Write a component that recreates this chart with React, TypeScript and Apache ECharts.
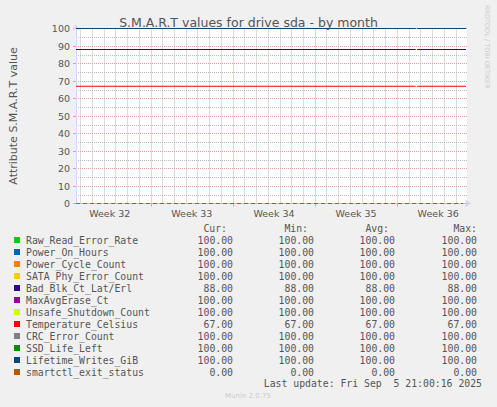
import { useEffect, useRef } from 'react'
import * as echarts from 'echarts'

// S.M.A.R.T fields, in Munin draw order
const fieldNames = [
  'Raw_Read_Error_Rate',
  'Power_On_Hours',
  'Power_Cycle_Count',
  'SATA_Phy_Error_Count',
  'Bad_Blk_Ct_Lat/Erl',
  'MaxAvgErase_Ct',
  'Unsafe_Shutdown_Count',
  'Temperature_Celsius',
  'CRC_Error_Count',
  'SSD_Life_Left',
  'Lifetime_Writes_GiB',
  'smartctl_exit_status',
]
const fieldColors = [
  '#00CC00', '#0066B3', '#FF8000', '#FFCC00', '#330099', '#990099',
  '#CCFF00', '#FF0000', '#808080', '#008F00', '#00487D', '#B35A00',
]
const curValues = [100, 100, 100, 100, 88, 100, 100, 67, 100, 100, 100, 0]
const minValues = [100, 100, 100, 100, 88, 100, 100, 67, 100, 100, 100, 0]
const avgValues = [100, 100, 100, 100, 88, 100, 100, 67, 100, 100, 100, 0]
const maxValues = [100, 100, 100, 100, 88, 100, 100, 67, 100, 100, 100, 0]

// the month window, one slot per hour
const hourSlots = Array.from({ length: 801 }, (_, i) => String(i))
const weekLabels = ['Week 32', 'Week 33', 'Week 34', 'Week 35', 'Week 36']
const weekLabelHours = [69, 237, 405, 573, 741]
const weekLineHours = [153, 321, 489, 657]
const dayLineOffset = 9
// first sample, last before the gap, first after the gap, last sample
const sampleHours = [0, 695, 698, 798]
const exitSampleHours = [0, 792]

const yTicks = [0, 100, 10]

const SANS = '"DejaVu Sans", sans-serif'
const MONO = '"DejaVu Sans Mono", monospace'
const FONT_COLOR = '#555555'
const AXIS_COLOR = '#CFD6F8'
const MGRID = '#EE9A9A'
const GRID = '#B8B8B8'
const DOTS = [1, 1]

const App: React.FC = () => {
  const chartRef = useRef<HTMLDivElement | null>(null)

  useEffect(() => {
    document.body.style.margin = '0'
    if (!chartRef.current) return
    const chart = echarts.init(chartRef.current, null, { renderer: 'svg' })

    const lineData = (v: number, i: number) => {
      if (i === fieldNames.length - 1) return exitSampleHours.map(h => [h, v])
      return [
        [sampleHours[0], v],
        [sampleHours[1], v],
        [sampleHours[1] + 1, '-'],
        [sampleHours[2], v],
        [sampleHours[3], v],
      ]
    }

    const dayLineHours = hourSlots
      .map((_, h) => h)
      .filter(h => h % 24 === dayLineOffset && !weekLineHours.includes(h))

    // vertical grid: day lines (minor) and week boundaries (major), kept under the data by z
    const gridLines = (name: string, hours: number[], color: string) => ({
      type: 'line',
      name,
      data: [],
      z: 1,
      silent: true,
      markLine: {
        silent: true,
        symbol: 'none',
        label: { show: false },
        emphasis: { disabled: true },
        lineStyle: { color, type: DOTS, width: 1, opacity: 1 },
        data: hours.map(h => ({ xAxis: h })),
      },
    })

    const series: any[] = [
      ...fieldNames.map((name, i) => ({
        type: 'line',
        name,
        z: 5,
        data: lineData(curValues[i], i),
        symbol: 'none',
        connectNulls: false,
        lineStyle: {
          color: fieldColors[i],
          width: 1,
          type: i === fieldNames.length - 1 ? [4, 3] : 'solid',
        },
        itemStyle: { color: fieldColors[i] },
      })),
      gridLines('day-grid', dayLineHours, GRID),
      gridLines('week-grid', weekLineHours, MGRID),
    ]

    // legend table
    const legendTop = 240
    const rowStep = 12
    const colRight = [233, 314, 395, 477]
    const headRight = [227, 308, 389, 477]
    const headers = ['Cur:', 'Min:', 'Avg:', 'Max:']
    const columns = [curValues, minValues, avgValues, maxValues]
    const monoFont = `9.8px ${MONO}`
    const graphic: any[] = []
    headers.forEach((h, c) => {
      graphic.push({
        type: 'text', x: headRight[c], y: 228,
        style: { text: h, font: monoFont, fill: FONT_COLOR, align: 'right', verticalAlign: 'middle' },
      })
    })
    fieldNames.forEach((name, i) => {
      const cy = legendTop + rowStep * i
      graphic.push({
        type: 'rect', shape: { x: 14, y: cy - 3, width: 6, height: 6 },
        style: { fill: fieldColors[i] },
      })
      graphic.push({
        type: 'text', x: 26, y: cy,
        style: { text: name, font: monoFont, fill: FONT_COLOR, verticalAlign: 'middle' },
      })
      columns.forEach((col, c) => {
        graphic.push({
          type: 'text', x: colRight[c], y: cy,
          style: { text: col[i].toFixed(2), font: monoFont, fill: FONT_COLOR, align: 'right', verticalAlign: 'middle' },
        })
      })
    })
    graphic.push({
      type: 'text', x: 482, y: 383,
      style: { text: 'Last update: Fri Sep  5 21:00:16 2025', font: monoFont, fill: FONT_COLOR, align: 'right', verticalAlign: 'middle' },
    })
    graphic.push({
      type: 'text', x: 248, y: 396,
      style: { text: 'Munin 2.0.75', font: `7px ${SANS}`, fill: '#CCCCCC', align: 'center', verticalAlign: 'middle' },
    })
    graphic.push({
      type: 'text', x: 487, y: 5, rotation: -Math.PI / 2,
      style: { text: 'RRDTOOL / TOBI OETIKER', font: `6.5px ${SANS}`, fill: '#CCCCCC', align: 'left', verticalAlign: 'middle' },
    })

    const option: echarts.EChartsOption = {
      animation: false,
      backgroundColor: '#F0F0F0',
      title: {
        text: 'S.M.A.R.T values for drive sda - by month',
        left: 'center',
        top: 11,
        textStyle: { fontFamily: SANS, fontSize: 12.5, fontWeight: 'normal', color: FONT_COLOR },
      },
      grid: { left: 67, right: 30, top: 28.5, bottom: 203.5, show: true, backgroundColor: '#FFFFFF', borderWidth: 0, z: 0 },
      xAxis: [
        {
          type: 'category',
          data: hourSlots,
          boundaryGap: false,
          position: 'bottom',
          z: 2,
          axisLine: { lineStyle: { color: '#D8B9A2', width: 1 } },
          axisTick: {
            show: true,
            length: 3,
            interval: (idx: number) => weekLineHours.includes(idx),
            lineStyle: { color: MGRID },
          },
          splitLine: { show: false },
          axisLabel: {
            interval: (idx: number) => weekLabelHours.includes(idx),
            formatter: (_v: string, idx: number) => weekLabels[weekLabelHours.indexOf(idx)] ?? '',
            margin: 5,
            fontFamily: SANS,
            fontSize: 9.5,
            color: FONT_COLOR,
          },
        },
        {
          type: 'category',
          data: hourSlots,
          boundaryGap: false,
          position: 'bottom',
          z: 1,
          axisLine: {
            lineStyle: { color: AXIS_COLOR },
            symbol: ['none', 'arrow'],
            symbolSize: [6, 6],
            symbolOffset: [0, 4],
          },
          axisTick: { show: false },
          axisLabel: { show: false },
          splitLine: { show: false },
        },
      ],
      yAxis: {
        type: 'value',
        min: yTicks[0],
        max: yTicks[1],
        interval: yTicks[2],
        z: 1,
        name: 'Attribute S.M.A.R.T value',
        nameLocation: 'middle',
        nameGap: 57,
        nameRotate: 90,
        nameTextStyle: { fontFamily: SANS, fontSize: 11, color: FONT_COLOR },
        axisLine: {
          show: true,
          lineStyle: { color: AXIS_COLOR },
          symbol: ['none', 'arrow'],
          symbolSize: [6, 6],
          symbolOffset: [0, 4],
        },
        axisTick: { show: true, length: 3, lineStyle: { color: MGRID } },
        axisLabel: { fontFamily: SANS, fontSize: 9.5, color: FONT_COLOR, margin: 6 },
        splitLine: { show: true, lineStyle: { color: MGRID, type: DOTS } },
        minorTick: { show: false, splitNumber: 2 },
        minorSplitLine: { show: true, lineStyle: { color: GRID, type: DOTS } },
      },
      series,
      graphic,
    }

    chart.setOption(option)
    return () => {
      chart.dispose()
    }
  }, [])

  return <div ref={chartRef} style={{ width: 497, height: 407, background: '#F0F0F0' }} />
}

export default App
